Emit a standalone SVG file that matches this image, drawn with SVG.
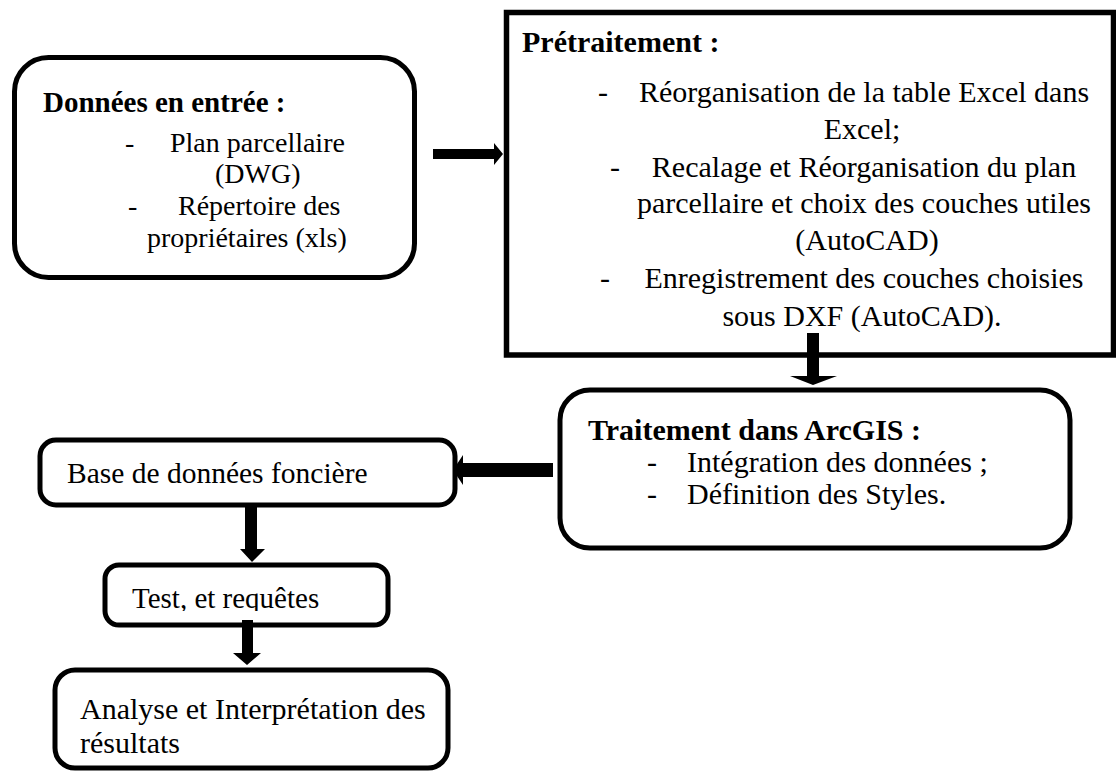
<svg xmlns="http://www.w3.org/2000/svg" width="1116" height="774" viewBox="0 0 1116 774">
<style>
.box{fill:#fff;stroke:#000;stroke-width:5}
.t{font-family:"Liberation Serif","Times New Roman",serif;font-size:30px;fill:#000}
.b{font-weight:bold}
.m{text-anchor:middle}
.s28{font-size:28px}
.arr{fill:#000;stroke:none}
</style>
<defs>
<clipPath id="clipTest"><rect x="100" y="560" width="300" height="51"/></clipPath>
</defs>
<rect width="1116" height="774" fill="#fff"/>
<g id="donnees">
<rect class="box" x="14.5" y="57.5" width="400" height="220" rx="34"/>
<text class="t b s28" x="43" y="112" style="font-size:29px">Données en entrée :</text>
<text class="t s28" x="125" y="152">-</text>
<text class="t s28" x="170" y="152">Plan parcellaire</text>
<text class="t s28" x="215" y="183">(DWG)</text>
<text class="t s28" x="128" y="215">-</text>
<text class="t s28" x="178" y="215">Répertoire des</text>
<text class="t s28" x="147" y="247">propriétaires (xls)</text>
</g>
<g id="pretraitement">
<rect class="box" x="506.5" y="12.5" width="607" height="342.5" style="stroke-width:5.5"/>
<text class="t b" x="522" y="52">Prétraitement :</text>
<text class="t" x="598" y="102">-</text>
<text class="t m" x="864" y="102">Réorganisation de la table Excel dans</text>
<text class="t m" x="862" y="139">Excel;</text>
<text class="t" x="610" y="177">-</text>
<text class="t m" x="864" y="177">Recalage et Réorganisation du plan</text>
<text class="t m" x="864" y="213">parcellaire et choix des couches utiles</text>
<text class="t m" x="867" y="250">(AutoCAD)</text>
<text class="t" x="600" y="288">-</text>
<text class="t m" x="864" y="288">Enregistrement des couches choisies</text>
<text class="t m" x="862" y="326">sous DXF (AutoCAD).</text>
</g>
<g id="traitement">
<rect class="box" x="560" y="390" width="510" height="158" rx="30"/>
<text class="t b" x="588" y="440">Traitement dans ArcGIS :</text>
<text class="t" x="647" y="472">-</text>
<text class="t" x="687" y="472">Intégration des données ;</text>
<text class="t" x="647" y="504">-</text>
<text class="t" x="687" y="504">Définition des Styles.</text>
</g>
<g id="base">
<rect class="box" x="40" y="440" width="415" height="65" rx="16"/>
<text class="t" x="67" y="483" style="font-size:29.5px">Base de données foncière</text>
</g>
<g id="test">
<rect class="box" x="105" y="565" width="283" height="60" rx="14"/>
<text class="t" x="132" y="608" clip-path="url(#clipTest)" style="font-size:29px">Test, et requêtes</text>
</g>
<g id="analyse">
<rect class="box" x="55" y="670" width="393" height="98" rx="20"/>
<text class="t" x="80" y="719">Analyse et Interprétation des</text>
<text class="t" x="80" y="753">résultats</text>
</g>
<g id="connectors">
<polygon class="arr" points="433,149 494,149 494,143 503,154 494,165 494,159 433,159"/>
<polygon class="arr" points="807,333 819,333 819,376 837,376 813,385 790,376 807,376"/>
<polygon class="arr" points="553,463 463,463 463,455 453,470 463,485 463,477 553,477"/>
<polygon class="arr" points="245,505 257,505 257,549 265,549 252,562 240,549 245,549"/>
<polygon class="arr" points="242,620 253,620 253,653 261,653 247,665 233,653 242,653"/>
</g>
</svg>
